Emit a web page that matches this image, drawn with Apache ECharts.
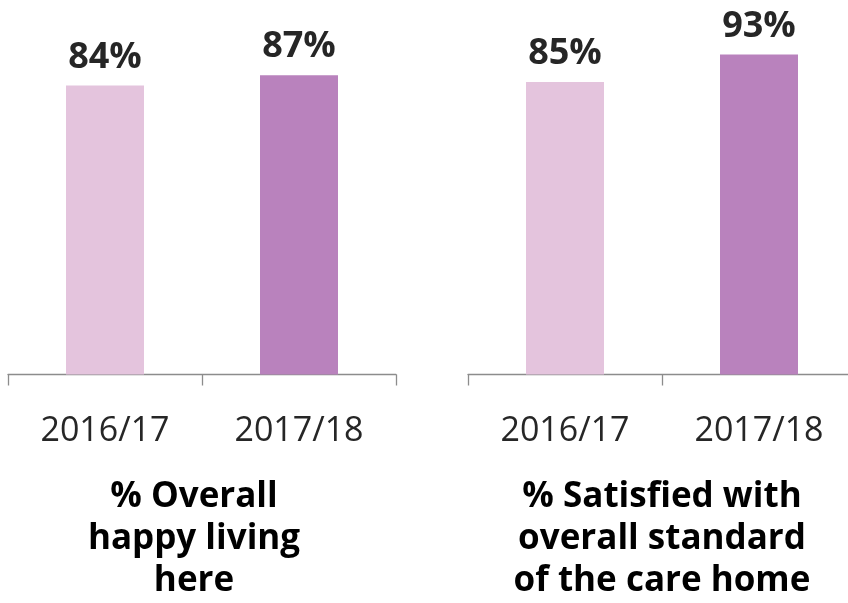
<!DOCTYPE html>
<html>
<head>
<meta charset="utf-8">
<script src="https://cdn.jsdelivr.net/npm/echarts@6/dist/echarts.min.js"></script>
<style>
  html, body { margin: 0; padding: 0; background: #fff; overflow: hidden; }
  #chart { width: 860px; height: 603px; }
</style>
</head>
<body>
<div id="chart"></div>
<script>
(function() {
  'use strict';

  // --- Data ---
  var categories = ['2016/17', '2017/18'];
  var happyValues = [84, 87];
  var satisfiedValues = [85, 93];
  var panelTitles = [
    '% Overall\nhappy living\nhere',
    '% Satisfied with\noverall standard\nof the care home'
  ];

  // --- Styles ---
  var FONT = '"Open Sans", "Noto Sans", sans-serif';
  var BAR_COLORS = ['#e4c4dd', '#b982bd'];
  var AXIS_COLOR = '#8c8c8c';
  var TEXT_COLOR = '#262626';

  // container is a little wider than the window so the right panel can run off the edge
  var chart = echarts.init(document.getElementById('chart'), null, { renderer: 'canvas' });

  function xAxisFor(gridIndex) {
    return {
      type: 'category',
      gridIndex: gridIndex,
      data: categories,
      axisLine: { lineStyle: { color: AXIS_COLOR, width: 1.3 } },
      axisTick: { show: true, length: 11, lineStyle: { color: AXIS_COLOR, width: 1.3 } },
      axisLabel: {
        color: TEXT_COLOR,
        fontFamily: FONT,
        fontSize: 34,
        margin: 40
      }
    };
  }

  function yAxisFor(gridIndex) {
    return {
      type: 'value',
      gridIndex: gridIndex,
      min: 0,
      max: 100,
      show: false
    };
  }

  function barSeries(values, idx) {
    return {
      type: 'bar',
      xAxisIndex: idx,
      yAxisIndex: idx,
      barWidth: 78,
      data: values.map(function(v, i) {
        return { value: v, itemStyle: { color: BAR_COLORS[i] } };
      }),
      label: {
        show: true,
        position: 'top',
        distance: 10,
        color: TEXT_COLOR,
        fontFamily: FONT,
        fontWeight: 'bold',
        fontSize: 36,
        formatter: '{c}%'
      }
    };
  }

  function titleText(text, cx) {
    return {
      type: 'text',
      x: cx,
      y: 476,
      style: {
        text: text,
        textAlign: 'center',
        fill: '#000',
        font: 'bold 35px ' + FONT,
        lineHeight: 42
      }
    };
  }

  var option = {
    animation: false,
    grid: [
      { left: 8, top: 30.5, width: 388, height: 344 },
      { left: 468, top: 30.5, width: 388, height: 344 }
    ],
    xAxis: [xAxisFor(0), xAxisFor(1)],
    yAxis: [yAxisFor(0), yAxisFor(1)],
    series: [barSeries(happyValues, 0), barSeries(satisfiedValues, 1)],
    graphic: [
      titleText(panelTitles[0], 194),
      titleText(panelTitles[1], 662)
    ]
  };

  chart.setOption(option);
})();
</script>
</body>
</html>
